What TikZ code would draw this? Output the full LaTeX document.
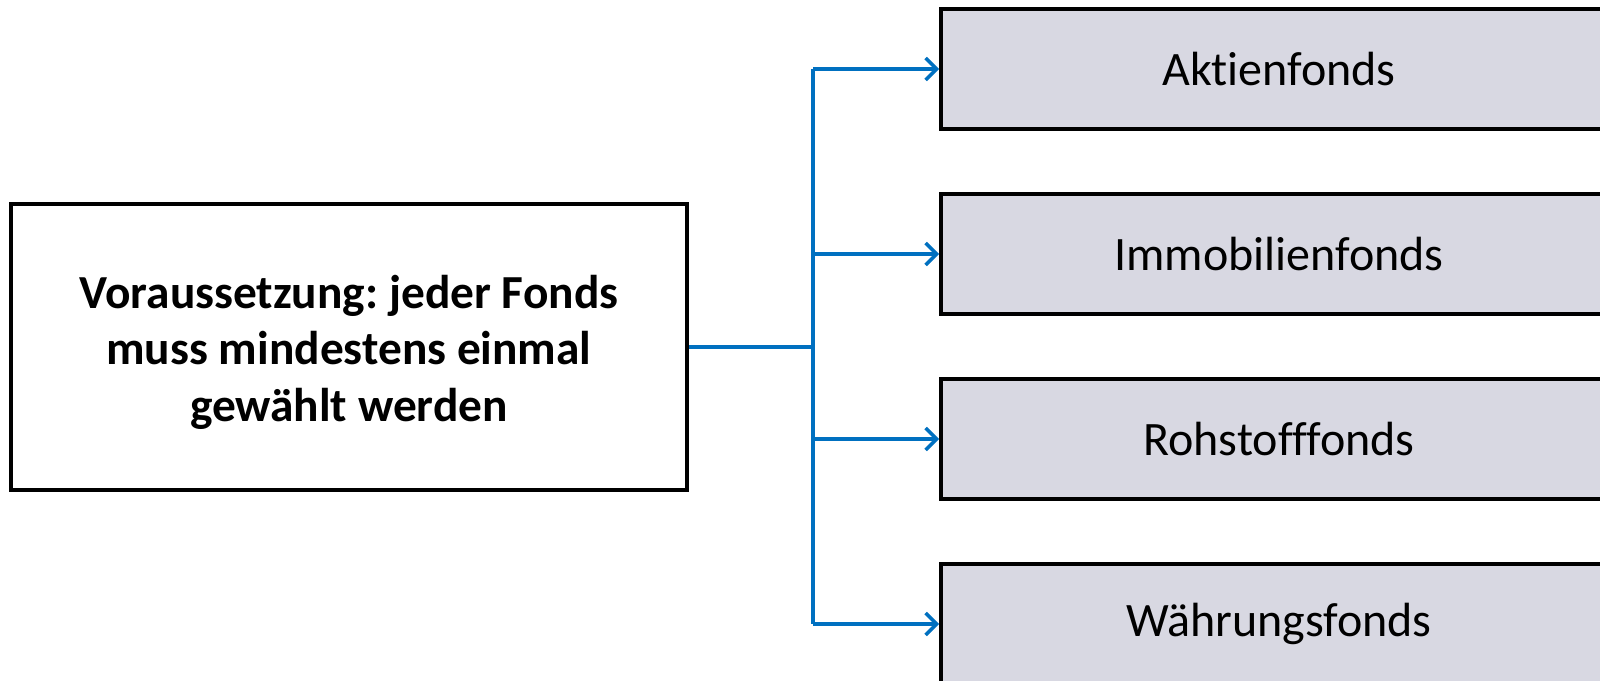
\documentclass[tikz,border=0pt]{standalone}
\usepackage{fontspec}
\setmainfont[Ligatures=NoCommon]{Carlito}
\frenchspacing
\usetikzlibrary{arrows.meta}
\definecolor{conblue}{HTML}{0070C0}
\definecolor{boxfill}{HTML}{D8D8E2}
\begin{document}
\begin{tikzpicture}[x=0.5pt,y=-0.5pt,
  mainbox/.style={draw=black,line width=1.9pt,fill=white,minimum width=338pt,minimum height=143pt,inner sep=0pt},
  maintext/.style={align=center,font=\fontsize{23.7pt}{28.3pt}\selectfont\bfseries,inner sep=0pt},
  fundbox/.style={draw=black,line width=1.9pt,fill=boxfill,minimum width=338pt,minimum height=60pt,font=\fontsize{24pt}{28pt}\selectfont,inner sep=0pt},
  conn/.style={draw=conblue,line width=1.75pt},
  arr/.style={conn,-{Straight Barb[length=5.5pt,width=11pt,line width=1.75pt]}}]
\useasboundingbox (0,0) rectangle (1600,680);
\clip (0,0) rectangle (1600,680);
\fill[white] (0,0) rectangle (1600,680);
\node[mainbox] (main) at (349,347) {};
\node[maintext] (maintxt) at (349,352) {Voraussetzung: jeder Fonds\\muss mindestens einmal\\gewählt werden};
\node[fundbox] (f1) at (1279,69) {\raisebox{-1pt}{Aktienfonds}};
\node[fundbox] (f2) at (1279,254) {\raisebox{-1pt}{Immobilienfonds}};
\node[fundbox] (f3) at (1279,439) {\raisebox{-1pt}{Rohstofffonds}};
\node[fundbox] (f4) at (1279,624) {\raisebox{-1pt}{Währungsfonds}};
\coordinate (t) at (813,347);
\draw[conn] (main.east) -- (t);
\draw[conn] (t |- f1.west) -- (t |- f4.west);
\draw[arr] (t |- f1.west) -- (f1.west);
\draw[arr] (t |- f2.west) -- (f2.west);
\draw[arr] (t |- f3.west) -- (f3.west);
\draw[arr] (t |- f4.west) -- (f4.west);
\end{tikzpicture}
\end{document}
